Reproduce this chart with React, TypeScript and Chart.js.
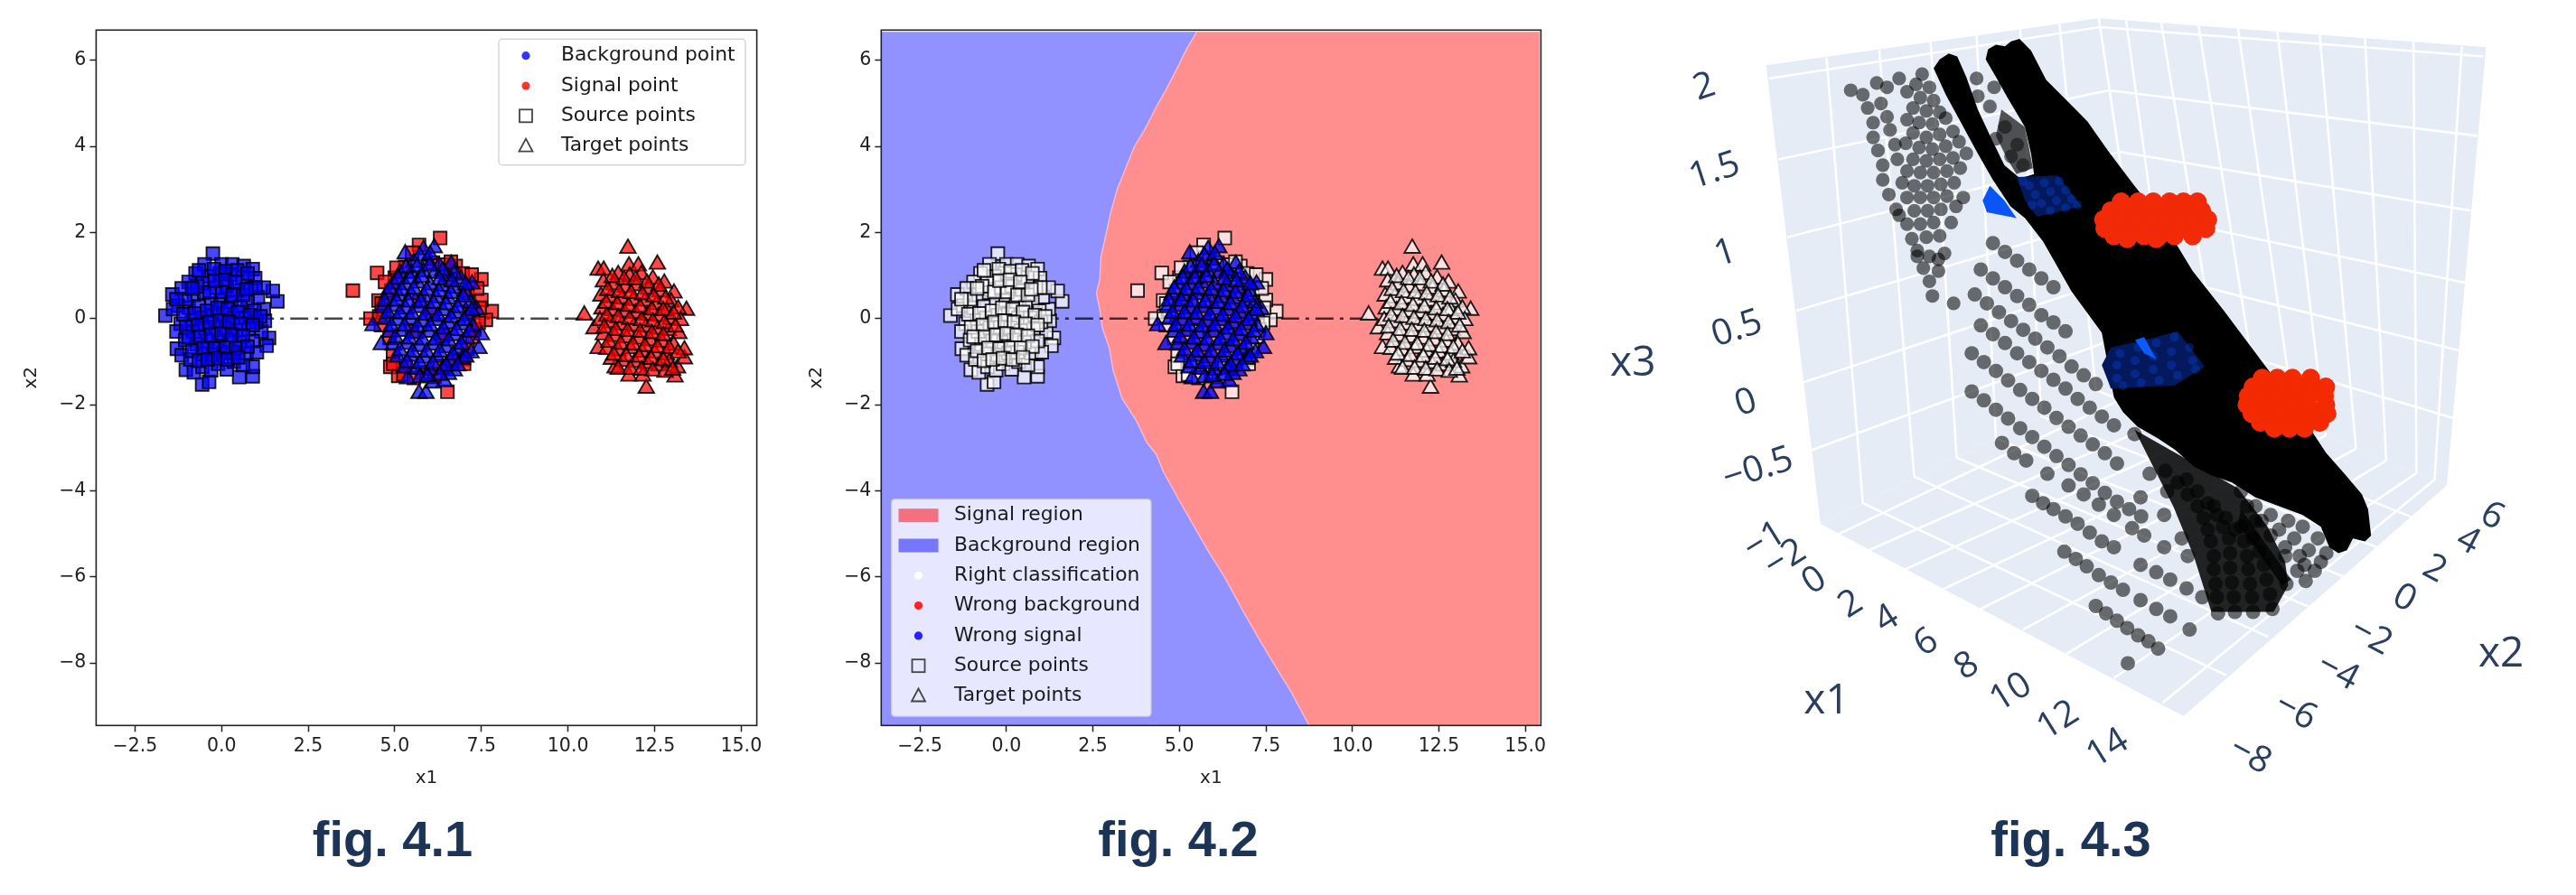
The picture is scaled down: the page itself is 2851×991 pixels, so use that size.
import React, { useEffect, useRef } from "react";
import { Chart, registerables } from "chart.js";
Chart.register(...registerables);

// ---------- fig 4.1 / 4.2 data ----------
const sourceBackground = [[-0.25,1.51],[-1.62,0.07],[1.61,0.40],[1.48,0.64],[-1.42,0.56],[-0.56,-1.53],[-0.36,-1.47],[0.51,-1.36],[0.90,-1.34],[-1.03,-1.19],[-1.29,-0.70],[1.37,-0.45],[1.30,-0.63],[0.90,-1.12],[-0.49,1.26],[0.00,1.26],[0.31,1.26],[0.64,1.22],[0.90,1.15],[0.97,0.94],[-0.75,1.05],[-0.95,0.85],[-1.15,0.70],[-1.25,0.30],[-1.40,0.22],[-1.18,-0.12],[-1.30,-0.30],[-1.05,-0.50],[-1.15,-0.85],[-0.90,-0.95],[-0.80,-1.25],[-0.55,-1.12],[-0.30,-1.20],[-0.10,-1.05],[0.15,-1.18],[0.35,-1.00],[0.62,-1.08],[0.72,-0.80],[1.02,-0.78],[1.15,-0.30],[1.25,-0.05],[1.22,0.22],[1.05,0.50],[1.22,0.72],[0.85,0.72],[0.60,0.95],[0.25,1.02],[-0.05,1.05],[-0.35,0.98],[-0.55,0.82],[-0.80,0.55],[-0.50,0.60],[-0.15,0.72],[0.15,0.75],[0.45,0.65],[0.75,0.42],[-0.95,0.25],[-0.65,0.28],[-0.30,0.35],[-0.02,0.42],[0.28,0.38],[0.55,0.28],[0.95,0.18],[-0.85,-0.05],[-0.58,0.02],[-0.25,0.08],[0.05,0.10],[0.35,0.02],[0.68,0.02],[1.00,-0.08],[-0.82,-0.30],[-0.48,-0.22],[-0.18,-0.20],[0.12,-0.22],[0.42,-0.28],[0.78,-0.25],[-0.72,-0.60],[-0.40,-0.52],[-0.08,-0.55],[0.22,-0.50],[0.52,-0.55],[0.90,-0.52],[-0.55,-0.82],[-0.25,-0.85],[0.05,-0.80],[0.32,-0.78],
[-1.05,0.45],[-0.70,0.75],[-0.35,0.62],[0.02,0.62],[0.32,0.55],[0.62,0.55],[0.98,0.72],[-1.10,0.10],[-0.78,0.12],[-0.42,0.18],[-0.12,0.25],[0.18,0.22],[0.48,0.15],[0.82,0.08],[1.12,0.05],[-1.02,-0.20],[-0.68,-0.15],[-0.35,-0.08],[-0.05,-0.05],[0.22,-0.08],[0.55,-0.12],[0.90,-0.15],[-0.95,-0.42],[-0.62,-0.42],[-0.30,-0.38],[0.00,-0.35],[0.30,-0.38],[0.62,-0.40],[-0.85,-0.75],[-0.52,-0.68],[-0.20,-0.70],[0.12,-0.68],[0.42,-0.68],[0.75,-0.65],[-0.65,-0.98],[-0.40,-0.95],[-0.10,-0.92],[0.18,-0.95],[0.48,-0.90],[-0.65,1.12],[-0.22,1.15],[0.12,1.10],[0.45,1.12],[0.75,1.05],[-0.85,0.70],[-0.20,0.88],[0.10,0.90],[0.40,0.85],[0.72,0.68],[-1.30,0.45]];
const sourceSignal = [[6.31,1.87],[5.70,1.71],[5.50,1.53],[4.49,1.06],[3.79,0.65],[7.50,0.91],[7.80,0.17],[7.63,-0.03],[7.50,0.43],[4.87,-1.12],[5.10,-1.33],[6.52,-1.70],[4.30,0.00],[4.53,0.42],[6.76,1.22],[6.96,1.05],[6.96,-0.94],[5.00,0.95],[5.30,1.20],[6.10,1.30],[6.45,1.25],[4.90,0.65],[4.70,0.20],[4.60,-0.15],[4.85,-0.45],[4.95,-0.85],[5.30,-1.10],[5.80,-1.25],[6.30,-1.10],[6.70,-1.00],[7.10,-0.70],[7.30,-0.25],[7.15,0.15],[7.10,0.60],[6.60,0.90],[5.70,0.40],[6.10,0.10],[5.50,-0.30],[6.40,-0.40],
[4.72,0.85],[5.05,1.18],[6.62,1.32],[7.22,1.02],[7.38,0.70],[7.45,0.25],[7.42,-0.10],[7.25,-0.42],[7.00,-1.05],[5.25,-1.30],[4.95,-1.05],[4.62,0.35],[4.55,0.05],[5.55,-1.38],[6.15,-1.35]];
const targetBackground = [[6.14,1.64],[5.30,1.50],[5.70,-1.74],[5.90,-1.74],[4.37,-0.17],[4.61,-0.61],[7.50,-0.38],[7.43,-0.70],[7.23,0.80],[6.63,1.26],[5.83,1.60],[6.43,-1.47],[6.10,-1.50],[5.37,-1.40],[7.36,0.21],[5.55,1.30],[5.95,1.35],[6.28,1.22],[5.15,1.05],[5.48,1.05],[5.82,1.08],[6.15,1.05],[6.50,0.98],[6.90,0.92],[4.98,0.80],[5.30,0.78],[5.65,0.82],[6.02,0.78],[6.35,0.75],[6.70,0.70],[7.02,0.62],[4.78,0.55],[5.12,0.52],[5.48,0.55],[5.85,0.50],[6.20,0.48],[6.55,0.45],[6.90,0.38],[7.18,0.35],[4.65,0.25],[4.98,0.28],[5.32,0.22],[5.68,0.25],[6.05,0.20],[6.40,0.18],[6.75,0.12],[7.10,0.05],[4.72,-0.02],[5.08,-0.05],[5.45,-0.02],[5.82,-0.08],[6.18,-0.05],[6.55,-0.12],[6.92,-0.15],[7.25,-0.20],[4.85,-0.32],[5.22,-0.30],[5.60,-0.35],[5.98,-0.32],[6.35,-0.38],[6.72,-0.40],[7.08,-0.48],[4.95,-0.62],[5.35,-0.60],[5.72,-0.65],[6.10,-0.62],[6.48,-0.68],[6.85,-0.72],[7.20,-0.80],[5.08,-0.90],[5.45,-0.88],[5.85,-0.92],[6.22,-0.90],[6.60,-0.98],[6.95,-0.95],[5.28,-1.15],[5.62,-1.18],[6.00,-1.20],[6.38,-1.18],[6.72,-1.22],[5.72,-1.38],[6.55,-1.30],
[5.72,1.45],[6.02,1.48],[5.32,1.18],[5.65,1.20],[6.00,1.22],[6.38,1.10],[6.72,1.05],[5.10,0.92],[5.45,0.92],[5.78,0.95],[6.30,0.90],[6.65,0.85],[7.05,0.78],[4.85,0.68],[5.20,0.65],[5.55,0.68],[5.92,0.65],[6.28,0.62],[6.62,0.58],[6.98,0.50],[4.70,0.40],[5.05,0.40],[5.40,0.38],[5.75,0.38],[6.12,0.35],[6.48,0.32],[6.82,0.25],[7.22,0.18],[4.80,0.12],[5.15,0.12],[5.50,0.10],[5.88,0.08],[6.25,0.05],[6.62,0.02],[7.00,-0.05],[4.90,-0.18],[5.28,-0.18],[5.65,-0.20],[6.02,-0.18],[6.40,-0.25],[6.78,-0.28],[7.15,-0.32],[5.02,-0.45],[5.42,-0.48],[5.80,-0.50],[6.18,-0.50],[6.55,-0.52],[6.92,-0.60],[5.15,-0.75],[5.52,-0.78],[5.92,-0.78],[6.30,-0.78],[6.68,-0.85],[7.05,-0.90],[5.35,-1.02],[5.72,-1.05],[6.10,-1.05],[6.48,-1.10],[6.82,-1.10],[5.95,-1.35],[6.30,-1.32]];
const targetSignal = [[11.73,1.63],[12.58,1.26],[12.26,-1.62],[10.47,0.08],[13.42,0.19],[10.87,1.12],[11.03,1.12],[11.76,1.22],[12.03,1.22],[13.09,-1.36],[11.76,-1.34],[12.16,-1.34],[11.36,-1.15],[13.16,-1.15],[13.36,-0.94],[13.36,-0.73],[10.75,-0.24],[10.87,-0.70],[13.06,0.59],[11.45,1.02],[11.78,0.98],[12.12,1.02],[12.45,0.92],[12.78,0.82],[11.02,0.85],[11.32,0.78],[11.65,0.72],[11.98,0.76],[12.32,0.68],[12.65,0.62],[12.98,0.38],[10.95,0.52],[11.22,0.48],[11.55,0.45],[11.88,0.42],[12.22,0.40],[12.55,0.32],[12.85,0.18],[13.18,0.22],[10.98,0.22],[11.28,0.18],[11.62,0.15],[11.95,0.12],[12.28,0.08],[12.62,0.05],[12.95,-0.02],[13.25,-0.05],[10.92,-0.05],[11.22,-0.10],[11.55,-0.15],[11.90,-0.18],[12.25,-0.20],[12.58,-0.25],[12.90,-0.28],[13.20,-0.35],[11.02,-0.38],[11.35,-0.42],[11.70,-0.45],[12.05,-0.48],[12.38,-0.52],[12.72,-0.55],[13.05,-0.62],[11.12,-0.72],[11.45,-0.75],[11.80,-0.70],[12.15,-0.78],[12.50,-0.80],[12.85,-0.85],[11.25,-0.95],[11.58,-1.00],[11.92,-1.02],[12.28,-1.05],[12.62,-1.10],[12.92,-1.02],
[11.28,0.95],[11.62,0.90],[11.95,0.90],[12.28,0.82],[12.62,0.75],[11.15,0.65],[11.48,0.60],[11.82,0.58],[12.15,0.55],[12.48,0.50],[12.82,0.45],[11.10,0.35],[11.42,0.32],[11.75,0.28],[12.08,0.25],[12.42,0.20],[12.75,0.18],[13.05,0.10],[11.12,0.05],[11.45,0.02],[11.78,-0.02],[12.12,-0.05],[12.45,-0.08],[12.78,-0.12],[13.10,-0.20],[11.05,-0.22],[11.38,-0.28],[11.72,-0.30],[12.08,-0.32],[12.42,-0.35],[12.75,-0.40],[11.18,-0.55],[11.52,-0.60],[11.88,-0.62],[12.22,-0.65],[12.58,-0.68],[12.92,-0.70],[13.18,-0.80],[11.32,-0.85],[11.68,-0.88],[12.05,-0.90],[12.40,-0.95],[12.75,-0.98],[11.45,-1.18],[11.80,-1.18],[12.12,-1.20],[12.45,-1.22],[12.80,-1.25],[13.02,-1.20]];
const meanLine = [[0,0],[12,0]];
const decisionBoundary = [[5.50,6.66],[5.18,6.22],[4.97,5.87],[4.61,5.31],[4.36,4.96],[4.05,4.47],[3.69,3.98],[3.48,3.56],[3.20,3.00],[3.01,2.45],[2.84,1.82],[2.73,1.43],[2.70,0.91],[2.60,0.59],[2.70,0.21],[2.77,-0.21],[2.98,-0.70],[3.08,-1.19],[3.34,-1.85],[3.76,-2.38],[4.05,-2.87],[4.33,-3.15],[4.54,-3.56],[4.97,-4.19],[5.32,-4.68],[5.82,-5.38],[6.31,-6.01],[6.88,-6.85],[7.38,-7.55],[7.80,-8.11],[8.23,-8.67],[8.75,-9.45]];
const blueCorners = [[-3.62,-9.45],[-3.62,6.66]];
const redCorners = [[15.41,-9.45],[15.41,6.66]];
const legend41 = ["Background point","Signal point","Source points","Target points"];
const legend42 = ["Signal region","Background region","Right classification","Wrong background","Wrong signal","Source points","Target points"];
const yTicks = [-8,-6,-4,-2,0,2,4,6];

// ---------- fig 4.3 data (picture-plane coordinates of the 3D view) ----------
const wallLeft = [[245,190],[795,30],[880,1205],[335,1750]];
const wallRight = [[795,30],[1435,128],[1370,1620],[880,1205]];
const floor = [[335,1750],[880,1205],[1370,1620],[935,2405]];
const gridLines = [
[250,235,797,60],[265,510,812,275],[280,775,830,485],[295,1025,848,690],[305,1270,862,890],[320,1500,875,1080],
[797,60,1430,160],[812,275,1420,430],[830,485,1410,685],[848,690,1400,930],[862,890,1390,1160],[875,1080,1380,1390],
[345,165,405,1680],[432,138,490,1590],[517,110,560,1525],[593,88,625,1460],[665,68,700,1385],[730,50,790,1295],[795,30,880,1205],
[840,35,920,1240],[898,45,1000,1310],[960,55,1060,1360],[1025,65,1120,1410],[1090,75,1170,1450],[1160,85,1220,1495],[1235,98,1270,1535],[1315,110,1320,1578],[1395,125,1350,1600],
[405,1680,1005,2265],[490,1590,1075,2135],[560,1525,1145,2035],[625,1460,1200,1930],[700,1385,1255,1830],[790,1295,1315,1730],
[365,1785,920,1240],[415,1840,1000,1310],[475,1905,1060,1360],[535,1975,1120,1410],[600,2040,1170,1450],[670,2110,1220,1495],[740,2195,1270,1535],[820,2275,1320,1578],[900,2360,1350,1600]];
const grayUpper = [[385,275],[405,290],[413,335],[422,385],[422,435],[430,480],[438,530],[438,580],[448,630],[428,250],[445,265],[435,320],[445,365],[450,410],[458,460],[462,510],[470,590],[465,235],[460,680],[465,700],[495,840],[505,880],[515,925],[520,975],[530,850],[530,890],[540,830],[555,1000],[495,820],[515,840],
[503,220],[493,255],[515,265],[478,280],[500,300],[522,310],[488,335],[510,345],[532,350],[478,375],[498,385],[520,390],[542,370],[488,420],[510,435],[532,425],[554,415],[476,455],[498,470],[520,475],[542,465],[564,450],[488,510],[510,515],[532,510],[554,505],[576,490],[478,550],[500,555],[522,555],[544,550],[566,540],[490,600],[512,600],[534,595],[556,590],[478,640],[500,640],[522,640],[544,635],[571,640],[490,685],[512,685],[534,680],[559,670],[478,730],[500,730],[522,725],[551,725],[486,780],[510,775],[532,770],
[593,235],[622,265],[615,330],[595,295],[640,400],[660,460],[650,500],[625,440],[670,530]];
const grayRows = [[620,795],[640,825],[660,855],[680,885],[700,915],[720,945],[600,885],[620,915],[640,945],[660,975],[680,1005],[700,1040],[720,1065],[740,1095],[590,970],[610,1000],[630,1030],[650,1060],[670,1090],[690,1120],[710,1150],[730,1180],[750,1215],[770,1245],[790,1275],[600,1075],[620,1105],[640,1135],[660,1170],[680,1200],[700,1230],[720,1260],[740,1290],[760,1325],[780,1355],[800,1385],[820,1415],[585,1170],[605,1200],[625,1230],[645,1262],[665,1295],[685,1325],[705,1355],[725,1390],[745,1420],[765,1450],[785,1480],[805,1510],[825,1545],[585,1300],[605,1330],[625,1362],[645,1392],[665,1425],[685,1455],[705,1488],[725,1520],[745,1550],[765,1582],[785,1612],[805,1645],[825,1675],[845,1700],[865,1725],[635,1475],[655,1510],[675,1535],[710,1580],[745,1620],[770,1650],[795,1685],[820,1720],[850,1765],[870,1790],[903,1830],[942,1860],[685,1655],[703,1680],[720,1700],[740,1725],[760,1750],[780,1780],[800,1810],[820,1830],[864,1890],[890,1915],[913,1940],[940,1970],[966,2000],[738,1845],[757,1870],[775,1895],[795,1925],[815,1950],[835,1975],[864,2010],[890,2040],[913,2065],[945,2110],[790,2030],[807,2055],[825,2080],[842,2105],[860,2130],[877,2150],[893,2175],[843,2225],[854,1445],[879,1580],[908,1640],[864,1660],[903,1720],[932,1800]];
const grayDark = [[905,1570],[925,1610],[942,1650],[958,1690],[968,1730],[975,1770],[980,1810],[985,1860],[985,1905],[988,1955],[990,2000],[992,2055],[940,1600],[958,1640],[975,1680],[990,1720],[1000,1760],[1010,1800],[1012,1850],[1012,1900],[1015,1950],[1018,2000],[1020,2050],[985,1690],[1005,1730],[1020,1770],[1035,1810],[1040,1860],[1042,1905],[1045,1955],[1048,2000],[1050,2050],[1030,1760],[1050,1800],[1060,1845],[1068,1890],[1072,1940],[1078,1990],[1082,2040],[1105,1955]];
const grayBandRight = [[1030,1640],[1054,1690],[1079,1720],[1108,1740],[1132,1760],[1157,1800],[1171,1850],[1040,1690],[1064,1740],[1093,1770],[1118,1800],[1142,1840],[1162,1880],[1054,1740],[1079,1790],[1103,1830],[1127,1860],[1152,1910],[1103,1860],[1123,1910],[1137,1945],[1135,1890]];
const darkBand = [[854,1430],[918,1690],[952,1860],[981,2050],[1084,2050],[1108,1960],[1103,1880],[1074,1760],[1025,1630]];
const darkStreak = [[1030,1700],[1113,1940],[1098,1960],[1025,1750]];
const darkGapPatch = [[634,340],[673,400],[686,540],[659,560],[644,510],[625,430]];
const blackBand = [[532,170],[547,150],[561,160],[576,230],[595,340],[620,450],[639,530],[665,575],[688,560],[683,490],[673,400],[644,300],[625,230],[608,170],[612,135],[625,120],[640,125],[650,108],[664,100],[683,140],[708,240],[742,310],[776,380],[810,480],[854,600],[900,720],[950,890],[1000,1020],[1080,1240],[1120,1350],[1147,1435],[1171,1510],[1201,1580],[1230,1650],[1240,1700],[1245,1790],[1235,1810],[1215,1800],[1205,1840],[1191,1850],[1176,1830],[1162,1760],[1132,1720],[1093,1690],[1054,1660],[1015,1610],[981,1585],[952,1555],[922,1500],[893,1460],[859,1420],[835,1370],[820,1320],[800,1100],[750,960],[703,790],[673,710],[649,670],[620,580],[595,490],[566,380],[542,290],[522,200]];
const blueCrescent = [[615,600],[603,650],[610,690],[659,710],[639,650]];
const blueCube1 = [[659,570],[727,565],[766,670],[693,705],[673,650]];
const blueCube2 = [[800,1210],[815,1150],[880,1120],[925,1095],[970,1215],[920,1280],[815,1290]];
const blueStreak = [[855,1125],[870,1115],[890,1190],[870,1170]];
const blueDots1 = [[680,600],[705,590],[730,585],[690,630],[715,620],[740,615],[700,660],[725,650],[750,645],[685,665],[715,685],[740,675],[760,665],[670,585]];
const blueDots2 = [[830,1170],[860,1150],[890,1135],[920,1115],[825,1210],[855,1195],[885,1180],[915,1165],[945,1150],[825,1255],[855,1240],[885,1225],[915,1210],[950,1195],[835,1280],[865,1270],[895,1262],[925,1245],[955,1225]];
const redBlobUpper = [[832,655],[860,655],[885,655],[912,655],[935,655],[958,655],[815,685],[840,685],[865,685],[890,685],[915,685],[940,685],[965,685],[803,715],[828,715],[853,715],[878,715],[903,715],[928,715],[953,715],[975,715],[805,745],[830,745],[855,745],[880,745],[905,745],[930,745],[955,745],[972,745],[820,770],[845,770],[870,770],[895,770],[920,770],[950,770],[842,780],[890,780]];
const redBlobLower = [[1065,1255],[1090,1255],[1115,1255],[1145,1255],[1050,1285],[1075,1285],[1100,1285],[1125,1285],[1150,1285],[1170,1285],[1042,1315],[1067,1315],[1092,1315],[1117,1315],[1142,1315],[1168,1315],[1040,1345],[1065,1345],[1090,1345],[1115,1345],[1140,1345],[1170,1345],[1048,1375],[1073,1375],[1098,1375],[1123,1375],[1148,1375],[1172,1375],[1062,1405],[1087,1405],[1112,1405],[1137,1405],[1160,1405],[1085,1425],[1110,1425],[1135,1425]];
const x3Ticks = ["2","1.5","1","0.5","0","−0.5"];
const x3TickSpots = [[143,265],[160,550],[178,830],[197,1088],[212,1340],[232,1565]];
const x1Ticks = ["−1","−2","0","2","4","6","8","10","12","14"];
const x1TickSpots = [[243,1810],[277,1870],[325,1945],[385,2025],[445,2075],[510,2155],[577,2235],[650,2325],[728,2420],[810,2515]];
const x2Ticks = ["6","4","2","0","−2","−4","−6","−8"];
const x2TickSpots = [[1445,1725],[1405,1810],[1350,1905],[1300,2005],[1245,2135],[1190,2255],[1120,2390],[1045,2540]];
const axisTitles = ["x3","x1","x2"];
const axisTitleSpots = [[25,1205],[345,2355],[1460,2195]];
const captions = ["fig. 4.1","fig. 4.2","fig. 4.3"];

// ---------- helpers ----------
const pts = (a: number[][]) => a.map(([x, y]) => ({ x, y }));
const segs = (a: number[][]) => a.flatMap(([x1, y1, x2, y2]) => [{ x: x1, y: y1 }, { x: x2, y: y2 }, { x: x1, y: null }]);
const markers = (data: number[][], style: string, radius: number, fill: string, edge = "#111", bw = 1.9) => ({
  data: pts(data), showLine: false, pointStyle: style, pointRadius: radius,
  pointBackgroundColor: fill, pointBorderColor: edge, pointBorderWidth: bw,
});
const shape = (data: number[][], color: string) => ({
  data: pts(data), showLine: true, fill: "shape", backgroundColor: color, borderWidth: 0, borderColor: color, pointRadius: 0,
});
const dashLine = () => ({
  data: pts(meanLine), showLine: true, borderColor: "rgba(0,0,0,0.72)", borderWidth: 2.6, borderDash: [20, 7, 4, 7], pointRadius: 0, fill: false,
});
const ordered = (ds: any[]) => ds.map((d, i) => ({ ...d, order: ds.length - i }));
const TICK = '"DejaVu Sans"';
const INK = "#222";

const legendPlugin = (cfg: any) => ({
  id: "panelFrameLegend",
  afterDraw(chart: any) {
    const { ctx, chartArea: a } = chart;
    ctx.save();
    ctx.strokeStyle = INK; ctx.lineWidth = 1.6;
    ctx.strokeRect(a.left, a.top, a.right - a.left, a.bottom - a.top);
    ctx.translate(-cfg.left, 0);
    ctx.fillStyle = cfg.face; ctx.strokeStyle = "rgba(204,204,204,0.8)"; ctx.lineWidth = 1.5;
    ctx.beginPath(); ctx.roundRect(cfg.box[0], cfg.box[1], cfg.box[2] - cfg.box[0], cfg.box[3] - cfg.box[1], 4); ctx.fill(); ctx.stroke();
    ctx.font = `21.8px ${TICK}`; ctx.textBaseline = "middle"; ctx.textAlign = "left";
    cfg.labels.forEach((label: string, i: number) => {
      const y = cfg.y0 + i * cfg.dy, m = cfg.marks[i], x = cfg.mx;
      ctx.fillStyle = "#1a1a1a"; ctx.fillText(label, cfg.tx, y);
      if (m[0] === "patch") { ctx.fillStyle = m[1]; ctx.fillRect(x - 22, y - 7.5, 44, 15); }
      if (m[0] === "dot") { ctx.fillStyle = m[1]; ctx.beginPath(); ctx.arc(x, y, 4.6, 0, Math.PI * 2); ctx.fill(); }
      if (m[0] === "square") { ctx.strokeStyle = "#444"; ctx.lineWidth = 1.8; ctx.strokeRect(x - 7, y - 7, 14, 14); }
      if (m[0] === "tri") { ctx.strokeStyle = "#444"; ctx.lineWidth = 1.8; ctx.beginPath(); ctx.moveTo(x, y - 8); ctx.lineTo(x + 7.5, y + 6); ctx.lineTo(x - 7.5, y + 6); ctx.closePath(); ctx.stroke(); }
    });
    ctx.restore();
  },
});

const textPlugin = {
  id: "plotlyText",
  afterDraw(chart: any) {
    const { ctx, scales } = chart;
    const put = (labels: string[], spots: number[][], deg: number, size: number) => labels.forEach((t, i) => {
      ctx.save();
      ctx.translate(scales.x.getPixelForValue(spots[i][0]), scales.y.getPixelForValue(spots[i][1]));
      ctx.rotate((deg * Math.PI) / 180);
      ctx.font = `${size}px "Open Sans"`; ctx.fillStyle = "#2a3f5f"; ctx.textAlign = "center"; ctx.textBaseline = "middle";
      ctx.fillText(t, 0, 0);
      ctx.restore();
    });
    put(x3Ticks, x3TickSpots, -18, 40);
    put(x1Ticks, x1TickSpots, -32, 40);
    put(x2Ticks, x2TickSpots, 28, 40);
    put(axisTitles, axisTitleSpots, 0, 46);
  },
};

const panelOptions = (paddingLeft: number, paddingRight: number) => ({
  responsive: false, animation: false, events: [],
  layout: { padding: { left: paddingLeft, right: paddingRight, top: 33.3, bottom: 900 - 803.3 - 70 } },
  plugins: { legend: { display: false }, tooltip: { enabled: false } },
  scales: {
    x: {
      type: "linear", min: -3.62, max: 15.45,
      afterFit: (s: any) => { s.height = 70; },
      title: { display: true, text: "x1", color: INK, font: { family: TICK, size: 20 }, padding: { top: 2, bottom: 0 } },
      border: { display: false },
      grid: { drawOnChartArea: false, drawTicks: true, tickLength: 7, tickColor: INK, tickWidth: 1.5 },
      ticks: { stepSize: 2.5, includeBounds: false, autoSkip: false, maxRotation: 0, color: INK, padding: 4, font: { family: TICK, size: 20.5 }, callback: (v: number) => v.toFixed(1).replace("-", "−") },
    },
    y: {
      type: "linear", min: -9.45, max: 6.7,
      afterFit: (s: any) => { s.width = 84; },
      title: { display: true, text: "x2", color: INK, font: { family: TICK, size: 20 }, padding: { top: 0, bottom: 2 } },
      border: { display: false },
      afterBuildTicks: (s: any) => { s.ticks = yTicks.map((value) => ({ value })); },
      grid: { drawOnChartArea: false, drawTicks: true, tickLength: 7, tickColor: INK, tickWidth: 1.5 },
      ticks: { autoSkip: false, color: INK, padding: 4, font: { family: TICK, size: 20.5 }, callback: (v: number) => String(v).replace("-", "−") },
    },
  },
});

export default function App() {
  const c1 = useRef<HTMLCanvasElement>(null);
  const c2 = useRef<HTMLCanvasElement>(null);
  const c3 = useRef<HTMLCanvasElement>(null);
  useEffect(() => {
    const edgeHalf = "rgba(0,0,0,0.85)";
    const chart1 = new Chart(c1.current as any, {
      type: "scatter",
      data: { datasets: ordered([
        dashLine(),
        { label: "Source points", ...markers(sourceBackground, "rect", 10, "rgba(0,0,255,0.72)", edgeHalf) },
        { label: "Source points", ...markers(sourceSignal, "rect", 10, "rgba(255,0,0,0.72)", edgeHalf) },
        { label: "Target points", ...markers(targetSignal, "triangle", 10, "rgba(255,0,0,0.72)", edgeHalf) },
        { label: "Target points", ...markers(targetBackground, "triangle", 10, "rgba(0,0,255,0.72)", edgeHalf) },
      ]) },
      options: panelOptions(22.4, 32.4) as any,
      plugins: [legendPlugin({ left: 0, face: "rgba(255,255,255,0.9)", box: [552, 43.3, 825, 182.7], labels: legend41, y0: 61.7, dy: 33.3, mx: 582, tx: 621,
        marks: [["dot", "rgba(0,0,255,0.8)"], ["dot", "rgba(255,0,0,0.8)"], ["square"], ["tri"]] })],
    } as any);
    const whitePt = "rgba(255,255,255,0.72)";
    const chart2 = new Chart(c2.current as any, {
      type: "scatter",
      data: { datasets: ordered([
        { label: "Background region", ...shape([...blueCorners, ...decisionBoundary], "#9191ff") },
        { label: "Signal region", ...shape([...redCorners, ...decisionBoundary], "#ff8f8f") },
        { data: pts(decisionBoundary), showLine: true, borderColor: "rgba(255,190,215,0.8)", borderWidth: 1.5, pointRadius: 0, fill: false },
        dashLine(),
        { label: "Source points", ...markers(sourceBackground, "rect", 10, whitePt, edgeHalf) },
        { label: "Source points", ...markers(sourceSignal, "rect", 10, whitePt, edgeHalf) },
        { label: "Target points", ...markers(targetSignal, "triangle", 10, whitePt, edgeHalf) },
        { label: "Wrong signal", ...markers(targetBackground, "triangle", 10, "rgba(0,0,255,0.78)", edgeHalf) },
      ]) },
      options: panelOptions(11.3, 24.6) as any,
      plugins: [legendPlugin({ left: 880, face: "rgba(255,255,255,0.78)", box: [986.7, 552.7, 1274, 793.3], labels: legend42, y0: 570.7, dy: 33.3, mx: 1016.5, tx: 1056,
        marks: [["patch", "#f3707f"], ["patch", "#7676ff"], ["dot", "#ffffff"], ["dot", "rgba(255,0,0,0.85)"], ["dot", "rgba(0,0,255,0.85)"], ["square"], ["tri"]] })],
    } as any);
    const gray = "rgba(0,0,0,0.56)";
    const none = "rgba(0,0,0,0)";
    const chart3 = new Chart(c3.current as any, {
      type: "scatter",
      data: { datasets: ordered([
        shape(wallLeft, "#e5ecf6"), shape(wallRight, "#e5ecf6"), shape(floor, "#e5ecf6"),
        { data: segs(gridLines), showLine: true, borderColor: "#ffffff", borderWidth: 2.6, pointRadius: 0, fill: false, spanGaps: false },
        { label: "Right classification", ...markers(grayUpper, "circle", 7.6, gray, none, 0) },
        { label: "Right classification", ...markers(grayRows, "circle", 8, gray, none, 0) },
        { label: "Right classification", ...markers(grayBandRight, "circle", 8, gray, none, 0) },
        shape(darkBand, "rgba(0,0,0,0.86)"),
        shape(darkGapPatch, "rgba(20,20,20,0.72)"),
        { label: "Right classification", ...markers(grayDark, "circle", 8, gray, none, 0) },
        shape(darkStreak, "rgba(0,0,0,0.75)"),
        shape(blackBand, "#000000"),
        shape(blueCrescent, "#0a55f5"), shape(blueCube1, "#04195c"), shape(blueCube2, "#04195c"),
        { label: "Wrong signal", ...markers(blueDots1, "circle", 5, "rgba(10,70,230,0.32)", none, 0) },
        { label: "Wrong signal", ...markers(blueDots2, "circle", 5, "rgba(10,70,230,0.32)", none, 0) },
        shape(blueStreak, "#0a5cff"),
        { label: "Wrong background", ...markers(redBlobUpper, "circle", 10.5, "#f22a08", none, 0) },
        { label: "Wrong background", ...markers(redBlobLower, "circle", 10.5, "#f42a02", none, 0) },
      ]) },
      options: {
        responsive: false, animation: false, events: [], layout: { padding: 0 },
        plugins: { legend: { display: false }, tooltip: { enabled: false } },
        scales: {
          x: { type: "linear", min: 0, max: 1568, display: false },
          y: { type: "linear", min: 0, max: 2640, reverse: true, display: false },
        },
      } as any,
      plugins: [textPlugin],
    } as any);
    return () => { chart1.destroy(); chart2.destroy(); chart3.destroy(); };
  }, []);
  const cv = (left: number, width: number, ref: any) => (
    <canvas ref={ref} width={width} height={ref === c3 ? 880 : 900} style={{ position: "absolute", left, top: 0, width, height: ref === c3 ? 880 : 900 }} />
  );
  const cap = (i: number, cx: number) => (
    <div key={i} style={{ position: "absolute", left: cx - 150, width: 300, top: 900.6, textAlign: "center", font: 'bold 56px/56px "Liberation Sans"', color: "#1c3557" }}>{captions[i]}</div>
  );
  return (
    <div style={{ position: "fixed", inset: 0, background: "#fff", overflow: "hidden", filter: "blur(0.7px)" }}>
      {cv(0, 870, c1)}{cv(880, 850, c2)}{cv(1780, 1071, c3)}
      {cap(0, 434.5)}{cap(1, 1304)}{cap(2, 2292)}
    </div>
  );
}
